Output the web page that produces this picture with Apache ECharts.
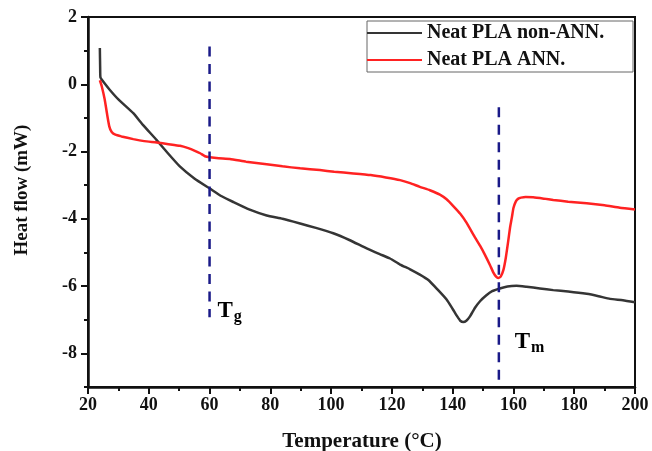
<!DOCTYPE html>
<html>
<head>
<meta charset="utf-8">
<script src="https://cdn.jsdelivr.net/npm/echarts@6/dist/echarts.min.js"></script>
<style>
  html, body { margin: 0; padding: 0; background: #ffffff; }
  #chart { width: 652px; height: 451px; }
</style>
</head>
<body>
<div id="chart"></div>
<script>
// DSC thermograms of neat PLA: [temperature °C, heat flow mW]
var seriesNames = ['Neat PLA non-ANN.', 'Neat PLA ANN.'];

var nonAnnealed = [
  [23.9, 1.08], [24.0, 0.5], [24.1, 0.2], [25, 0.08], [27.2, -0.17], [30, -0.45],
  [34.9, -0.86], [38, -1.2], [42.6, -1.66], [46, -2.02], [50.3, -2.45], [55, -2.8],
  [60.1, -3.1], [64, -3.33], [67.8, -3.5], [73, -3.72], [78.8, -3.9], [84, -4.0],
  [89.8, -4.14], [95, -4.27], [100.7, -4.43], [106, -4.63], [111.7, -4.88], [116, -5.05],
  [119.4, -5.18], [122.7, -5.36], [126, -5.5], [129.2, -5.66], [132, -5.82], [135, -6.1],
  [138, -6.4], [140, -6.68], [141.5, -6.9], [142.5, -7.03], [143.5, -7.07], [144.5, -7.03],
  [145.7, -6.9], [147.3, -6.65], [149, -6.45], [151, -6.28], [153, -6.15], [155.5, -6.07],
  [158, -6.01], [161, -5.99], [164.3, -6.02], [168.7, -6.07], [173.1, -6.12], [178, -6.16],
  [184.1, -6.23], [188, -6.3], [191.8, -6.38], [196, -6.42], [200, -6.48]
];

var annealed = [
  [23.9, 0.12], [24.5, -0.05], [25.5, -0.45], [26.3, -0.9], [27, -1.25], [27.8, -1.42],
  [29, -1.5], [31, -1.55], [34.9, -1.63], [38.5, -1.69], [42.6, -1.73], [46.5, -1.78],
  [50.3, -1.83], [53, -1.9], [55, -1.97], [56.9, -2.05], [58.5, -2.14], [60.1, -2.17],
  [63, -2.2], [66.7, -2.22], [72, -2.3], [78.8, -2.38], [84, -2.44], [89.8, -2.5],
  [96.3, -2.55], [101, -2.6], [107.3, -2.65], [113, -2.7], [118, -2.77], [122.7, -2.85],
  [126, -2.94], [129.2, -3.05], [132.5, -3.15], [135.8, -3.28], [138, -3.42], [140.2, -3.62],
  [142.5, -3.85], [144.6, -4.12], [147, -4.5], [149, -4.8], [150.5, -5.05], [152.3, -5.38],
  [153.4, -5.6], [154.3, -5.72], [155.0, -5.76], [155.8, -5.72], [156.7, -5.52], [157.5, -5.15],
  [158.3, -4.65], [158.9, -4.25], [159.5, -3.95], [160.0, -3.68], [160.8, -3.48], [161.6, -3.4],
  [162.5, -3.37], [164, -3.35], [166.5, -3.36], [170, -3.4], [173.1, -3.44], [178, -3.49],
  [184.1, -3.54], [190, -3.6], [195, -3.67], [200, -3.72]
];

// transition markers (glass transition and melting)
var tgLine = [[60, 1.12], [60, -6.93]];
var tmLine = [[155.2, -0.68], [155.2, -8.8]];
var tgLabelAt = [62.6, -6.75];
var tmLabelAt = [160.4, -7.65];

// axis ticks
var xTicks = { min: 20, max: 200, step: 20 };
var yMajor = [-8, -6, -4, -2, 0, 2];
var yMinor = [-9, -7, -5, -3, -1, 1];

var serif = '"Liberation Serif", "Times New Roman", serif';
var ink = '#111111';
var dashColor = '#1a1a88';

var chart = echarts.init(document.getElementById('chart'), null, { renderer: 'canvas' });

function markLabel(pos, sub) {
  return {
    type: 'scatter',
    data: [pos],
    symbolSize: 0,
    silent: true,
    itemStyle: { color: ink, opacity: 1 },
    label: {
      show: true,
      position: 'right',
      distance: 0,
      color: ink,
      opacity: 1,
      formatter: '{t|T}{s|' + sub + '}',
      rich: {
        t: { fontFamily: serif, fontWeight: 'bold', fontSize: 23, color: '#000000' },
        s: { fontFamily: serif, fontWeight: 'bold', fontSize: 16, color: '#000000', padding: [12, 0, 0, 1] }
      }
    }
  };
}

var option = {
  backgroundColor: '#ffffff',
  animation: false,
  grid: {
    left: 88, top: 17, width: 547, height: 370,
    show: true, borderColor: ink, borderWidth: 2, backgroundColor: 'transparent'
  },
  legend: {
    data: seriesNames,
    left: 367, top: 23,
    orient: 'vertical',
    padding: 0,
    itemGap: 7,
    itemWidth: 55,
    itemHeight: 14,
    icon: 'path://M0,6 L55,6 L55,8 L0,8 Z',
    textStyle: { fontFamily: serif, fontWeight: 'bold', fontSize: 20, color: ink, lineHeight: 20 }
  },
  graphic: [
    { type: 'rect', shape: { x: 367, y: 21, width: 266, height: 51 },
      style: { fill: 'none', stroke: '#666666', lineWidth: 1 }, silent: true },
    { type: 'text', x: 362, y: 442,
      style: { text: 'Temperature (°C)', font: 'bold 21px ' + serif, fill: ink, align: 'center', verticalAlign: 'middle' } },
    { type: 'text', x: 22, y: 190, rotation: Math.PI / 2,
      style: { text: 'Heat flow (mW)', font: 'bold 19px ' + serif, fill: ink, align: 'center', verticalAlign: 'middle' } }
  ],
  xAxis: {
    type: 'value',
    min: xTicks.min, max: xTicks.max, interval: xTicks.step,
    axisLine: { onZero: false, lineStyle: { color: ink, width: 2.5 } },
    axisTick: { length: 7, lineStyle: { color: ink, width: 2 } },
    minorTick: { show: true, splitNumber: 2, length: 4, lineStyle: { color: ink, width: 2 } },
    splitLine: { show: false },
    axisLabel: { fontFamily: serif, fontWeight: 'bold', fontSize: 18, color: ink, margin: 9 }
  },
  yAxis: [
    {
      type: 'value',
      min: -9, max: 2,
      axisLine: { onZero: false, lineStyle: { color: ink, width: 2.5 } },
      axisTick: { length: 7, customValues: yMajor, lineStyle: { color: ink, width: 2 } },
      splitLine: { show: false },
      axisLabel: { customValues: yMajor, fontFamily: serif, fontWeight: 'bold', fontSize: 18, color: ink, margin: 11 }
    },
    {
      type: 'value',
      min: -9, max: 2,
      position: 'left',
      axisLine: { show: false, onZero: false },
      axisTick: { show: true, length: 4, customValues: yMinor, lineStyle: { color: ink, width: 2 } },
      axisLabel: { show: false },
      splitLine: { show: false }
    }
  ],
  series: [
    {
      name: seriesNames[0], type: 'line', data: nonAnnealed,
      showSymbol: false, symbol: 'none',
      smooth: 0.15,
      lineStyle: { color: '#353535', width: 2.5 },
      itemStyle: { color: '#353535' }, z: 3
    },
    {
      name: seriesNames[1], type: 'line', data: annealed,
      showSymbol: false, symbol: 'none',
      smooth: 0.15,
      lineStyle: { color: '#ff2222', width: 2.5 },
      itemStyle: { color: '#ff2222' }, z: 3
    },
    {
      type: 'line', data: tgLine, symbol: 'none', silent: true,
      lineStyle: { color: dashColor, width: 2.5, type: [10, 7.5] }, z: 4
    },
    {
      type: 'line', data: tmLine, symbol: 'none', silent: true,
      lineStyle: { color: dashColor, width: 2.5, type: [10, 7.5] }, z: 4
    },
    markLabel(tgLabelAt, 'g'),
    markLabel(tmLabelAt, 'm')
  ]
};

chart.setOption(option);
</script>
</body>
</html>
